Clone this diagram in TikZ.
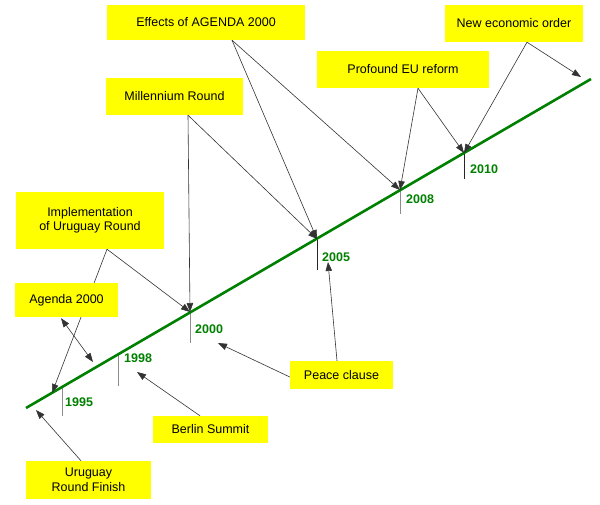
\documentclass[tikz,border=0pt]{standalone}
\usepackage{fontspec}
\setmainfont{Liberation Sans}
\usetikzlibrary{arrows.meta}
\pgfdeclarelayer{bg}
\pgfsetlayers{bg,main}
\definecolor{tlgreen}{RGB}{0,128,0}
\definecolor{ylw}{RGB}{255,255,0}
\begin{document}
\begin{tikzpicture}[x=1pt,y=-1pt,
  ybox/.style={fill=ylw,draw=none,align=center,inner sep=0pt,font=\fontsize{12.5}{14.5}\selectfont},
  arr/.style={draw=black!80,line width=0.6pt,-{Triangle[length=9pt,width=6.5pt]}},
  darr/.style={draw=black!80,line width=0.6pt,{Triangle[length=9pt,width=6.5pt]}-{Triangle[length=9pt,width=6.5pt]}},
  tickg/.style={draw=black!45,line width=0.9pt},
  tickd/.style={draw=black!85,line width=0.9pt},
  yr/.style={anchor=west,inner sep=0pt,text=tlgreen,font=\fontsize{12.5}{14.5}\selectfont\bfseries}]
\useasboundingbox (0,0) rectangle (600,504);
% boxes
\node[ybox,minimum width=198pt,minimum height=35pt] (eff) at (206,22.5) {Effects of AGENDA 2000};
\node[ybox,minimum width=137pt,minimum height=37pt] (mil) at (174.5,96.5) {Millennium Round};
\node[ybox,minimum width=172pt,minimum height=37pt] (pro) at (403,69.5) {Profound EU reform};
\node[ybox,minimum width=138pt,minimum height=37pt] (neo) at (514,23.5) {New economic order};
\node[ybox,minimum width=148pt,minimum height=57pt] (imp) at (90,220.5) {Implementation\\of Uruguay Round};
\node[ybox,minimum width=103pt,minimum height=34pt] (age) at (66.5,300) {Agenda 2000};
\node[ybox,minimum width=115pt,minimum height=27pt] (ber) at (210.5,429.5) {Berlin Summit};
\node[ybox,minimum width=125pt,minimum height=38pt] (uru) at (88.5,480) {Uruguay\\Round Finish};
\node[ybox,minimum width=103pt,minimum height=28pt] (pea) at (341.5,375) {Peace clause};
% timeline points
\coordinate (ls) at (26,408);
\coordinate (le) at (591,79);
\coordinate (t1995) at (62,387);   \coordinate (b1995) at (62,416);
\coordinate (t1998) at (118,354);  \coordinate (b1998) at (118,386);
\coordinate (t2000) at (190,312);  \coordinate (b2000) at (190,343);
\coordinate (t2005) at (317,239);  \coordinate (b2005) at (317,270);
\coordinate (t2008) at (400,190);  \coordinate (b2008) at (400,214);
\coordinate (t2010) at (464,153);  \coordinate (b2010) at (464,179);
\coordinate (p1995) at (52,393);
\coordinate (pend) at (581,77);
\coordinate (pag) at (93,362);
\coordinate (pber) at (137,372);
\coordinate (puru) at (36,410);
\coordinate (ppea) at (328,262);
\coordinate (ppeb) at (218,343);
% year labels
\node[yr] (l1995) at (65,402) {1995};
\node[yr] (l1998) at (124,358) {1998};
\node[yr] (l2000) at (195,329) {2000};
\node[yr] (l2005) at (322,257) {2005};
\node[yr] (l2008) at (406,199) {2008};
\node[yr] (l2010) at (470,169) {2010};
\begin{pgfonlayer}{bg}
\draw[tickg] (t1995) -- (b1995);
\draw[tickg] (t1998) -- (b1998);
\draw[tickg] (t2000) -- (b2000);
\draw[tickd] (t2005) -- (b2005);
\draw[tickg] (t2008) -- (b2008);
\draw[tickd] (t2010) -- (b2010);
\draw[tlgreen,line width=2.6pt] (ls) -- (le);
\draw[arr] ([xshift=26pt]eff.south) -- (t2005);
\draw[arr] ([xshift=26pt]eff.south) -- (t2008);
\draw[arr] ([xshift=13.5pt]mil.south) -- (t2000);
\draw[arr] ([xshift=13.5pt]mil.south) -- (t2005);
\draw[arr] ([xshift=15pt]pro.south) -- (t2008);
\draw[arr] ([xshift=15pt]pro.south) -- (t2010);
\draw[arr] ([xshift=13pt]neo.south) -- (t2010);
\draw[arr] ([xshift=13pt]neo.south) -- (pend);
\draw[arr] ([xshift=17pt]imp.south) -- (t2000);
\draw[arr] ([xshift=17pt]imp.south) -- (p1995);
\draw[darr] ([xshift=-5.5pt,yshift=-1pt]age.south) -- (pag);
\draw[arr] ([xshift=-10.5pt]ber.north) -- (pber);
\draw[arr] ([xshift=-7.5pt]uru.north) -- (puru);
\draw[arr] ([xshift=-4.5pt]pea.north) -- (ppea);
\draw[arr] ([yshift=-2pt]pea.west) -- (ppeb);
\end{pgfonlayer}
\end{tikzpicture}
\end{document}
